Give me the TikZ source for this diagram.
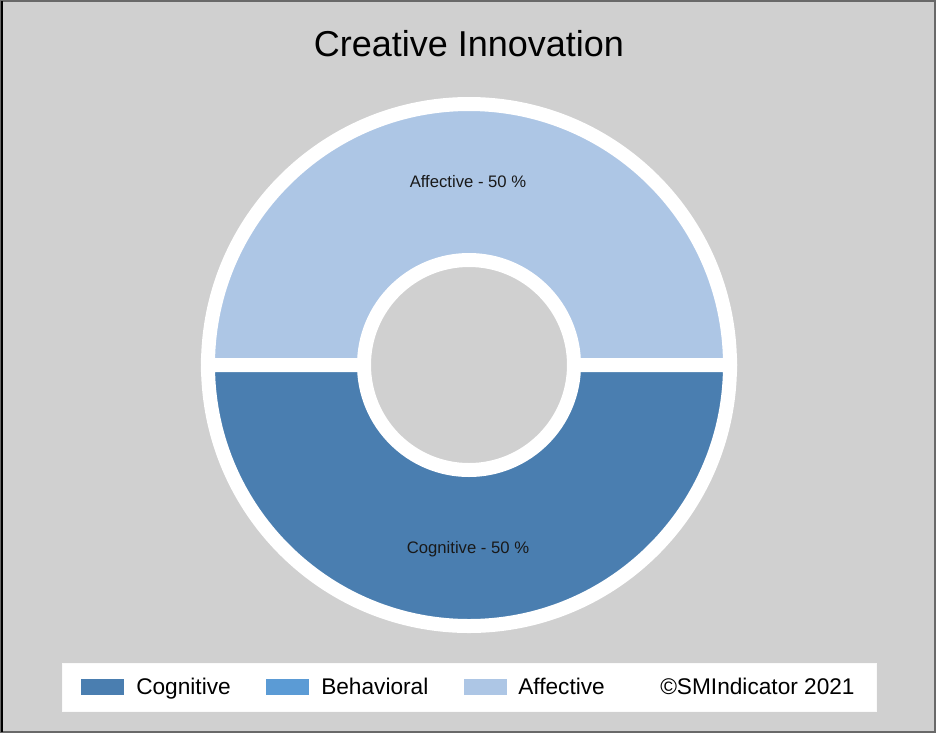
\documentclass[tikz,border=0pt]{standalone}
\usepackage{fontspec}
\setmainfont{Liberation Sans}
\definecolor{bg}{RGB}{208,208,208}
\definecolor{cog}{RGB}{74,126,176}
\definecolor{beh}{RGB}{91,155,213}
\definecolor{aff}{RGB}{173,198,229}
\definecolor{frame}{RGB}{105,105,105}
\definecolor{lbl}{RGB}{25,25,25}
\begin{document}
\begin{tikzpicture}[x=0.75pt,y=-0.75pt,
  sector/.style={draw=white,line width=10.5pt,line join=miter},
  slabel/.style={font=\fontsize{12.5}{14}\selectfont,text=lbl,inner sep=0pt,anchor=base},
  legtext/.style={font=\fontsize{17}{19}\selectfont,anchor=base west,inner sep=0pt,text=black},
  swatch/.style={minimum width=32.25pt,minimum height=12pt,inner sep=0pt,anchor=north west}]
\useasboundingbox (0,0) rectangle (936,733);
\fill[bg] (0,0) rectangle (936,733);
\draw[frame,line width=1.5pt] (1,1) rectangle (935,732);
\draw[black,line width=1.2pt] (2,1) -- (2,732);
\node[font=\fontsize{27}{31}\selectfont,inner sep=0pt,anchor=base] (title) at (469,56) {Creative Innovation};
\coordinate (c) at (469,365);
% Affective (top half)
\path[sector,fill=aff] (c) ++(0:195.75pt) arc[start angle=0,end angle=180,radius=195.75pt]
  -- ++(117pt,0) arc[start angle=180,end angle=0,radius=78.75pt] -- cycle;
% Cognitive (bottom half)
\path[sector,fill=cog] (c) ++(180:195.75pt) arc[start angle=180,end angle=360,radius=195.75pt]
  -- ++(-117pt,0) arc[start angle=360,end angle=180,radius=78.75pt] -- cycle;
\node[slabel] (laff) at (468,187) {Affective - 50 \%};
\node[slabel] (lcog) at (468,553) {Cognitive - 50 \%};
% legend
\fill[white] (62,663) rectangle (876,711);
\draw[white!90!bg,line width=0.75pt] (62,663) rectangle (876,711);
\node[swatch,fill=cog] (s1) at (81,679) {};
\node[legtext] (t1) at (136,694) {Cognitive};
\node[swatch,fill=beh] (s2) at (266,679) {};
\node[legtext] (t2) at (321,694) {Behavioral};
\node[swatch,fill=aff] (s3) at (464,679) {};
\node[legtext] (t3) at (518,694) {Affective};
\node[legtext] (t4) at (660,694) {©SMIndicator 2021};
\end{tikzpicture}
\end{document}
